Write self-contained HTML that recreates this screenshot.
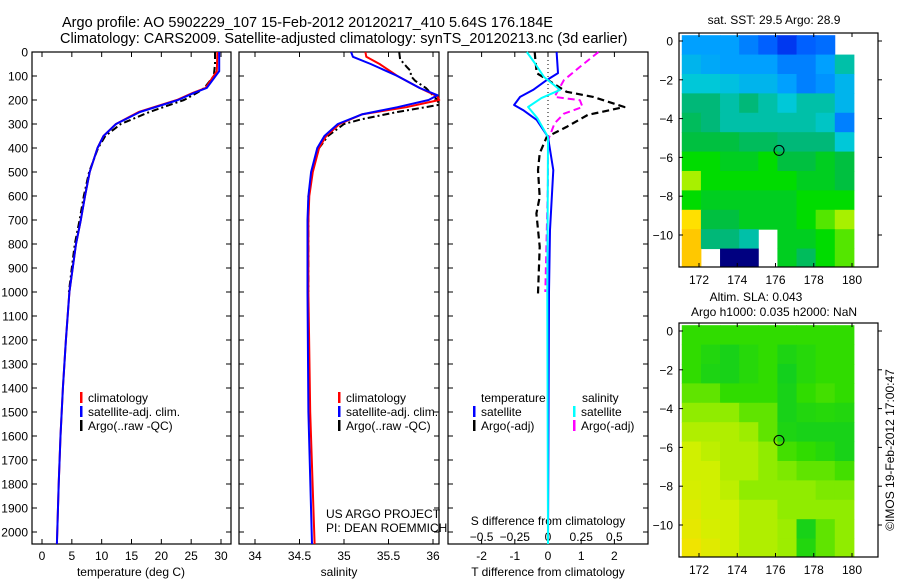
<!DOCTYPE html>
<html><head><meta charset="utf-8"><style>
html,body{margin:0;padding:0;background:#fff;}
svg{display:block;font-family:"Liberation Sans",sans-serif;}
</style></head><body>
<svg id="fig" width="900" height="580" viewBox="0 0 900 580" xmlns="http://www.w3.org/2000/svg">
<rect width="900" height="580" fill="#fff"/>
<text x="62" y="27" font-size="14.5">Argo profile: AO 5902229_107 15-Feb-2012 20120217_410 5.64S 176.184E</text>
<text x="60" y="43" font-size="14.5">Climatology: CARS2009. Satellite-adjusted climatology: synTS_20120213.nc (3d earlier)</text>
<g id="plots"></g>
</svg>
<script>
// ---- depth axis ----
const depthTicks=[0,100,200,300,400,500,600,700,800,900,1000,1100,1200,1300,1400,1500,1600,1700,1800,1900,2000];
// ---- temperature profiles [depth, value] ----
const tempClimDepth=[0,80,150,170,200,250,300,350,400,500,600,700,800,1000,1200,1400,1600,1800,2050];
const tempClimVal=[29.4,29.3,27.4,25.3,22.6,16.2,12.4,10.3,9.3,8.0,7.2,6.5,5.7,4.6,4.0,3.5,3.1,2.8,2.5];
const tempSatDepth=[0,80,150,170,200,250,300,350,400,500,600,700,800,1000,1200,1400,1600,1800,2050];
const tempSatVal=[29.7,29.7,27.6,25.5,22.8,16.4,12.4,10.3,9.3,8.0,7.2,6.5,5.7,4.6,4.0,3.5,3.1,2.8,2.5];
const tempArgoDepth=[0,50,100,150,170,200,250,300,350,400,500,600,700,800,900,1000];
const tempArgoVal=[29.0,29.0,28.8,27.2,26.0,23.8,18.0,13.2,10.6,9.4,7.9,7.0,6.3,5.5,5.0,4.5];
// ---- salinity profiles ----
const salClimDepth=[0,20,50,100,150,185,200,230,260,300,350,400,500,600,700,1000,1500,2050];
const salClimVal=[35.24,35.25,35.4,35.6,35.85,36.05,36.07,35.7,35.2,34.95,34.8,34.72,34.65,34.61,34.6,34.6,34.62,34.67];
const salSatDepth=[0,20,50,100,150,180,200,230,260,300,350,400,500,600,700,1000,1500,2050];
const salSatVal=[35.08,35.1,35.3,35.6,35.85,36.05,35.95,35.6,35.2,34.93,34.78,34.7,34.63,34.6,34.59,34.59,34.6,34.64];
const salArgoDepth=[0,30,60,80,100,120,150,200,220,250,280,300,350,400,500,600,1000];
const salArgoVal=[35.62,35.63,35.7,35.75,35.75,35.8,35.92,36.05,36.07,35.6,35.2,35.0,34.82,34.72,34.64,34.6,34.6];
// ---- differences ----
const dTSatDepth=[0,88,117,158,187,221,242,283,354,492,742,1000,2050];
const dTSatVal=[0.26,0.3,-0.04,-0.45,-0.84,-1.02,-0.75,-0.34,0,0.16,0.06,0.03,0];
const dTArgoDepth=[0,20,88,117,166,187,229,262,312,354,422,492,604,673,811,1007];
const dTArgoVal=[-0.4,-0.39,-0.34,0,0.56,1.36,2.3,1.2,0.56,-0.04,-0.25,-0.3,-0.25,-0.35,-0.25,-0.3];
const dSSatDepth=[0,46,104,131,158,192,229,276,354,1000,2050];
const dSSatVal=[-0.16,-0.1,-0.03,0.03,0.09,-0.05,-0.15,-0.08,0,-0.005,0];
const dSArgoDepth=[0,62,117,166,187,201,229,257,297,368,535,1000];
const dSArgoVal=[0.38,0.24,0.12,0.07,0.05,0.24,0.26,0.12,0.05,0,0,-0.02];
// ---- axis ticks ----
const tempTicks=[0,5,10,15,20,25,30];
const salTicks=[34,34.5,35,35.5,36];
const tDiffTicks=[-2,-1,0,1,2];
const sDiffTicks=[-0.5,-0.25,0,0.25,0.5];
const lonTicks=[172,174,176,178,180];
const latTicks=[0,-2,-4,-6,-8,-10];
// ---- maps (1-degree cells from lat 0.3 downward, lon 171.1 eastward) ----
const sstGrid=[
[3,3,3,2.5,2,1.5,2,2.2,null],
[3.5,3.2,3,3,3,2.5,2.5,3,4.5],
[4,4,3.8,3.5,3.5,3,2.5,2.8,3.5],
[5,5,4.5,5,4.5,4,4.5,4.5,3.5],
[5.5,5,4.5,4.5,4.5,4.5,4.5,4.2,2.5],
[6,6,6,5.5,5.5,5,5,5,4],
[7,7,6.5,6.5,7,6,6,6.5,6],
[8,7,7,7,7,7,6.5,6.5,6],
[7,6.5,6.5,6.5,6.5,6.5,7,7,7],
[9,6,6,6.5,6.5,6.5,7,7.5,8],
[9.5,5,5,4.5,null,6.5,6.5,7,7.5],
[9.5,null,0,0,null,6.5,5.5,7,7.5]];
const slaGrid=[
[1,1,1,1,1,1,1,1,1],
[1,0.7,0.5,0.8,1,0.6,0.8,1,1],
[1,0.6,0.5,0.8,1,0.4,0.8,1,1],
[1.5,1.5,1,1,1,0.5,1,1.2,1],
[2,2,2,1.5,1.5,0.5,0.7,0.8,0.7],
[2.5,2.5,2.5,2.2,1.5,0.6,0.5,0.5,0.5],
[3,2.7,2.5,2.5,2,1.2,1,0.8,0.5],
[3,3,2.5,2.5,2,1.8,1.5,1.5,1.2],
[3.2,3,2.7,2,2,2,2,1.8,1.8],
[3.5,3,3,2.5,2.5,2,2,2,2],
[3.7,3.2,3,2.5,2.5,2.2,0.5,1.5,2],
[4,3.5,3,2.5,2.5,2.2,0.7,1.5,2]];
const profileLon=176.184, profileLat=-5.64;

const NS="http://www.w3.org/2000/svg";
const G=document.getElementById('plots');
function mk(tag,attrs,parent){const e=document.createElementNS(NS,tag);for(const k in attrs)e.setAttribute(k,attrs[k]);(parent||G).appendChild(e);return e;}
function txt(s,x,y,size,anchor,name){const t=mk('text',{x:x,y:y,'font-size':size,'text-anchor':anchor||'start'});t.textContent=s;


return t;}
const Y0=52,Y1=544;
const yD=d=>Y0+d*0.24;
const px={t:[32,231],s:[239,439],d:[448,648]};
const xT=v=>42+v*5.967;
const xS=v=>255+(v-34)*89;
const xTd=v=>548+v*33.2;
const xSd=v=>548+v*132.8;

function line(xs,ds,fx,color,w,dash,name){
  const p=ds.map((d,i)=>fx(xs[i]).toFixed(1)+','+yD(Math.min(d,2050)).toFixed(1)).join(' ');
  const e=mk('polyline',{points:p,fill:'none',stroke:color,'stroke-width':w,'stroke-dasharray':dash||'none','stroke-linejoin':'round'});
  
  
}
function frame(x0,x1,name){
  const r=mk('rect',{x:x0,y:Y0,width:x1-x0,height:Y1-Y0,fill:'none',stroke:'#000','stroke-width':1.2});
  
  
  depthTicks.forEach(d=>{const y=yD(d);mk('line',{x1:x0,x2:x0+5,y1:y,y2:y,stroke:'#000'});mk('line',{x1:x1-5,x2:x1,y1:y,y2:y,stroke:'#000'});});
}
function xticks(vals,fx,labY,fmt,name,noLab){
  vals.forEach(v=>{const x=fx(v);mk('line',{x1:x,x2:x,y1:Y1,y2:Y1-5,stroke:'#000'});mk('line',{x1:x,x2:x,y1:Y0,y2:Y0+5,stroke:'#000'});
   if(!noLab)txt(fmt?fmt(v):String(v),x,labY,12,'middle',name);});
}
// panel 1
frame(px.t[0],px.t[1],'temperature-panel');
depthTicks.forEach(d=>txt(String(d),28,yD(d)+4.5,12,'end','depth-tick-label'));
xticks(tempTicks,xT,560,null,'temperature-tick-label');
txt('temperature (deg C)',131,576,12,'middle','temperature-axis-title');
line(tempArgoVal,tempArgoDepth,xT,'#000',2,'7,3,2,3','argo-temperature-line');
line(tempClimVal,tempClimDepth,xT,'#f00',2,null,'climatology-temperature-line');
line(tempSatVal,tempSatDepth,xT,'#00f',2,null,'satellite-temperature-line');
// panel 2
frame(px.s[0],px.s[1],'salinity-panel');
xticks(salTicks,xS,560,null,'salinity-tick-label');
txt('salinity',339,576,12,'middle','salinity-axis-title');
line(salArgoVal,salArgoDepth,xS,'#000',2,'7,3,2,3','argo-salinity-line');
line(salClimVal,salClimDepth,xS,'#f00',2,null,'climatology-salinity-line');
line(salSatVal,salSatDepth,xS,'#00f',2,null,'satellite-salinity-line');
// panel 3
frame(px.d[0],px.d[1],'difference-panel');
mk('line',{x1:xTd(0),x2:xTd(0),y1:Y0,y2:yD(330),stroke:'#000','stroke-dasharray':'1,3'});
xticks(tDiffTicks,xTd,560,null,'t-difference-tick-label');
sDiffTicks.forEach(v=>txt(String(v).replace('-','\u2212'),xSd(v),541,12,'middle','s-difference-tick-label'));
txt('S difference from climatology',548,525,12,'middle','s-difference-axis-title');
txt('T difference from climatology',548,576,12,'middle','t-difference-axis-title');
line(dTArgoVal,dTArgoDepth,xTd,'#000',2.2,'7,4','argo-t-diff-line');
line(dSArgoVal,dSArgoDepth,xSd,'#f0f',2,'7,4','argo-s-diff-line');
line(dTSatVal,dTSatDepth,xTd,'#00f',2,null,'satellite-t-diff-line');
line(dSSatVal,dSSatDepth,xSd,'#0ff',2,null,'satellite-s-diff-line');
// legends
function leg(x,y,color,label,name){mk('rect',{x:x,y:y-10,width:2.5,height:11,fill:color});txt(label,x+8,y,12,'start',name);}
leg(80,402,'#f00','climatology','legend-climatology');
leg(80,416,'#00f','satellite-adj. clim.','legend-satellite');
leg(80,430,'#000','Argo(..raw -QC)','legend-argo');
leg(338,402,'#f00','climatology','legend-climatology-2');
leg(338,416,'#00f','satellite-adj. clim.','legend-satellite-2');
leg(338,430,'#000','Argo(..raw -QC)','legend-argo-2');
txt('temperature',481,402,12,'start','legend-temperature-heading');
txt('salinity',582,402,12,'start','legend-salinity-heading');
leg(473,416,'#00f','satellite','legend-t-satellite');
leg(473,430,'#000','Argo(-adj)','legend-t-argo');
leg(573,416,'#0ff','satellite','legend-s-satellite');
leg(573,430,'#f0f','Argo(-adj)','legend-s-argo');
txt('US ARGO PROJECT',326,518,12,'start','project-credit');
txt('PI: DEAN ROEMMICH',326,532,12,'start','pi-credit');

// maps
const sstColors=['#000080','#0010e0','#0060ff','#00a0ff','#00c8d8','#00b878','#00c040','#00dc00','#a8f000','#ffe000','#ffb000'];
const slaColors=['#00c830','#30dc00','#90ec00','#d0f000','#f0e400'];
function colorAt(pal,v){const i=Math.max(0,Math.min(pal.length-1,v));const a=Math.floor(i),b=Math.min(pal.length-1,a+1),f=i-a;
 const h=c=>[parseInt(c.substr(1,2),16),parseInt(c.substr(3,2),16),parseInt(c.substr(5,2),16)];
 const A=h(pal[a]),B=h(pal[b]);return 'rgb('+A.map((x,k)=>Math.round(x+(B[k]-x)*f)).join(',')+')';}
function map(box,lat0y,grid,pal,name){
  const [bx0,by0,bx1,by1]=box;
  const xL=lon=>699+(lon-172)*19.125;
  const yL=lat=>lat0y-lat*19.4;
  const g=mk('g',{});
  
  
  grid.forEach((row,j)=>row.forEach((v,i)=>{ if(v===null)return;
    const la=0.3-j, lo=171.1+i;
    const y0=yL(la), y1=Math.min(yL(la-1),by1);
    const c=mk('rect',{x:xL(lo),y:y0,width:19.6,height:y1-y0+0.5,fill:colorAt(pal,v)},g);
    
    
  }));
  const fr=mk('rect',{x:bx0,y:by0,width:bx1-bx0,height:by1-by0,fill:'none',stroke:'#000','stroke-width':1.2});
  
  
  lonTicks.forEach(l=>{const x=xL(l);mk('line',{x1:x,x2:x,y1:by0,y2:by0+4,stroke:'#000'});mk('line',{x1:x,x2:x,y1:by1,y2:by1-4,stroke:'#000'});txt(String(l),x,by1+17,12,'middle','longitude-tick-label');});
  latTicks.forEach(l=>{const y=yL(l);mk('line',{x1:bx0,x2:bx0+4,y1:y,y2:y,stroke:'#000'});mk('line',{x1:bx1,x2:bx1+4,y1:y,y2:y,stroke:'#000'});txt(String(l).replace('-','\u2212'),673,y+4.5,12,'end','latitude-tick-label');});
  const c=mk('circle',{cx:xL(profileLon),cy:yL(profileLat),r:5,fill:'none',stroke:'#000'});
  
  
}
map([679,33,878,267],41,sstGrid,sstColors,'sst-map');
map([679,323,878,557],331,slaGrid,slaColors,'sla-map');
txt('sat. SST: 29.5 Argo: 28.9',774,24,12,'middle','sst-map-title');
txt('Altim. SLA: 0.043',756,301,12,'middle','sla-map-title');
txt('Argo h1000: 0.035 h2000: NaN',774,316,12,'middle','sla-map-subtitle');
const v=txt('\u00a9IMOS 19-Feb-2012 17:00:47',0,0,12,'middle','timestamp-credit');
v.setAttribute('transform','translate(894,450) rotate(-90)');
</script>
</body></html>
